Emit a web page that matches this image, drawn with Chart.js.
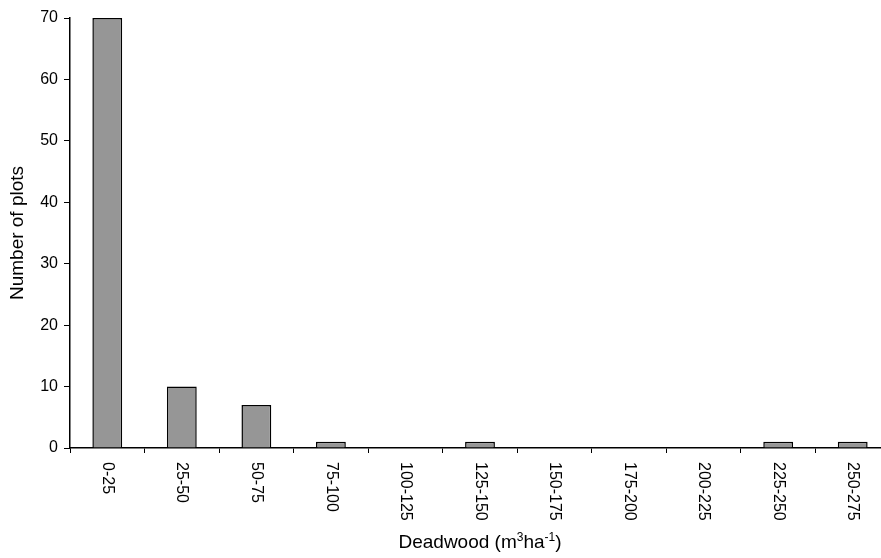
<!DOCTYPE html>
<html>
<head>
<meta charset="utf-8">
<script src="https://cdn.jsdelivr.net/npm/chart.js@4.4.1/dist/chart.umd.min.js"></script>
<style>
  html, body { margin: 0; padding: 0; overflow: hidden; background: #fff; }
  #wrap { width: 890px; height: 558px; }
</style>
</head>
<body>
<div id="wrap"><canvas id="c" width="890" height="558"></canvas></div>
<script>
const categories = ['0-25','25-50','50-75','75-100','100-125','125-150','150-175','175-200','200-225','225-250','250-275'];
const plotCounts = [70, 10, 7, 1, 0, 1, 0, 0, 0, 1, 1];
const yTicks = [0, 10, 20, 30, 40, 50, 60, 70];
const xTitleParts = [['Deadwood (m', false], ['3', true], ['ha', false], ['-1', true], [')', false]];
const yTitle = 'Number of plots';

const FONT = '"Liberation Sans", Arial, sans-serif';

const customText = {
  id: 'customText',
  afterDraw(chart) {
    const xs = chart.scales.x;
    const ctx = chart.ctx;
    ctx.save();
    ctx.fillStyle = '#000';
    // rotated category labels
    ctx.font = '16px ' + FONT;
    ctx.textAlign = 'left';
    ctx.textBaseline = 'middle';
    categories.forEach((lab, i) => {
      const x = xs.getPixelForValue(i);
      const y = xs.top + 14;
      ctx.save();
      ctx.translate(x, y);
      ctx.rotate(Math.PI / 2);
      ctx.fillText(lab, 0, 0);
      ctx.restore();
    });
    // x axis title with superscripts
    const big = '19px ' + FONT, small = '12px ' + FONT;
    let total = 0;
    xTitleParts.forEach(([t, sup]) => { ctx.font = sup ? small : big; total += ctx.measureText(t).width; });
    let cx = (xs.left + xs.right) / 2 - total / 2;
    const baseY = 548;
    ctx.textBaseline = 'alphabetic';
    xTitleParts.forEach(([t, sup]) => {
      ctx.font = sup ? small : big;
      ctx.fillText(t, cx, sup ? baseY - 7 : baseY);
      cx += ctx.measureText(t).width;
    });
    ctx.restore();
  }
};

new Chart(document.getElementById('c'), {
  type: 'bar',
  data: {
    labels: categories,
    datasets: [{
      data: plotCounts,
      backgroundColor: '#969696',
      borderColor: '#000',
      borderWidth: 1.5,
      barPercentage: 0.8,
      categoryPercentage: 0.5
    }]
  },
  options: {
    responsive: false,
    animation: false,
    events: [],
    layout: { padding: { top: 18, left: 0, right: 0, bottom: 0 } },
    plugins: { legend: { display: false }, tooltip: { enabled: false } },
    scales: {
      x: {
        grid: { offset: true, drawOnChartArea: false, drawTicks: true, tickLength: 5, color: '#000' },
        border: { display: true, color: '#000', width: 1.5 },
        ticks: { display: false },
        title: { display: false },
        afterFit(s) { s.height = 110; }
      },
      y: {
        min: 0, max: 70,
        afterBuildTicks(s) { s.ticks = yTicks.map(v => ({ value: v })); },
        grid: { drawOnChartArea: false, drawTicks: true, tickLength: 6, color: '#000' },
        border: { display: true, color: '#000', width: 1.5 },
        ticks: { color: '#000', font: { family: FONT, size: 16 }, padding: 6 },
        title: { display: true, text: yTitle, color: '#000', font: { family: FONT, size: 19 }, padding: { top: 6, bottom: 0 } },
        afterFit(s) { s.width = 70; }
      }
    }
  },
  plugins: [customText]
});
</script>
</body>
</html>
